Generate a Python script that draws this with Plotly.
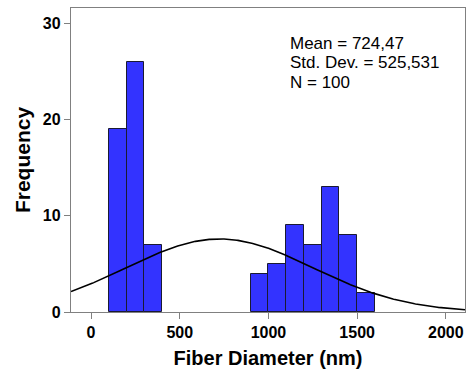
import numpy as np
import plotly.graph_objects as go

bin_starts = [100, 200, 300, 900, 1000, 1100, 1200, 1300, 1400, 1500]
counts = [19, 26, 7, 4, 5, 9, 7, 13, 8, 2]
bin_width = 100
mean_val = 724.47
std_val = 525.531
n_val = 100

centers = [b + bin_width / 2 for b in bin_starts]

xs = np.linspace(-113, 2108, 400)
ys = n_val * bin_width / (std_val * np.sqrt(2 * np.pi)) * np.exp(-0.5 * ((xs - mean_val) / std_val) ** 2)

fig = go.Figure()
fig.add_trace(go.Bar(x=centers, y=counts, width=bin_width,
                     marker=dict(color="#3333ff", line=dict(color="#1a1a33", width=1)),
                     showlegend=False))
fig.add_trace(go.Scatter(x=xs, y=ys, mode="lines", line=dict(color="black", width=1.6),
                         showlegend=False, hoverinfo="skip"))

font_b = dict(family="Liberation Sans, Arial", size=16, color="black", weight="bold")

stat_lines = [
    f"Mean = {str(mean_val).replace('.', ',')}",
    f"Std. Dev. = {str(std_val).replace('.', ',')}",
    f"N = {n_val}",
]
stat_y = [0.884, 0.8195, 0.755]

fig.update_layout(
    width=470, height=380,
    margin=dict(l=71, r=5, t=8, b=68),
    paper_bgcolor="white", plot_bgcolor="white",
    bargap=0,
    xaxis=dict(range=[-113, 2108], tickvals=[0, 500, 1000, 1500, 2000],
               showgrid=False, zeroline=False, showline=True, mirror=True,
               linecolor="#808080", linewidth=1.3,
               ticks="outside", ticklen=6, tickcolor="#808080", tickwidth=1.3,
               tickfont=font_b,
               title=dict(text="Fiber Diameter (nm)", standoff=10,
                          font=dict(family="Liberation Sans, Arial", size=20, color="black", weight="bold"))),
    yaxis=dict(range=[0, 31.6], tickvals=[0, 10, 20, 30],
               showgrid=False, zeroline=False, showline=True, mirror=True,
               linecolor="#808080", linewidth=1.3,
               ticks="outside", ticklen=6, tickcolor="#808080", tickwidth=1.3,
               tickfont=font_b,
               title=dict(text="Frequency", standoff=6,
                          font=dict(family="Liberation Sans, Arial", size=21, color="black", weight="bold"))),
    annotations=[dict(xref="paper", yref="paper", x=0.55, y=yy, xanchor="left", yanchor="middle",
                      align="left", showarrow=False, text=t,
                      font=dict(family="Liberation Sans, Arial", size=17, color="black"))
                 for t, yy in zip(stat_lines, stat_y)],
)

fig.write_html("out.html")
